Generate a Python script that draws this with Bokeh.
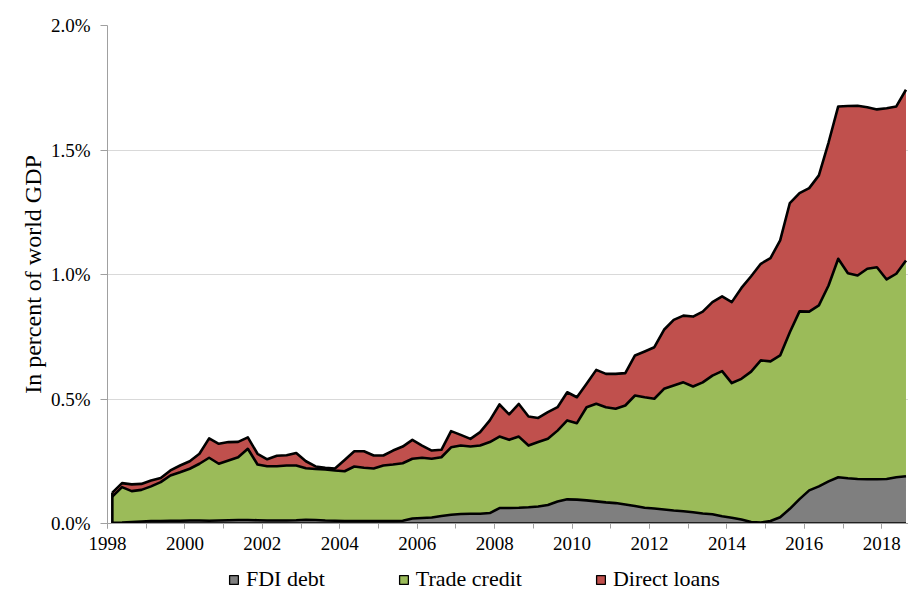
import numpy as np
import pandas as pd
from bokeh.plotting import figure
from bokeh.layouts import column
from bokeh.models import (Range1d, FixedTicker, PrintfTickFormatter, Legend,
                          LegendItem)
from bokeh.embed import file_html
from bokeh.resources import INLINE

# Quarterly data, in percent of world GDP, starting 1998Q1
first_quarter = "1998Q1"

fdi_debt = [
    0.003, 0.004, 0.006, 0.008, 0.010, 0.010, 0.011, 0.011, 0.012, 0.012,
    0.011, 0.012, 0.013, 0.014, 0.014, 0.013, 0.012, 0.012, 0.012, 0.013,
    0.015, 0.014, 0.012, 0.011, 0.010, 0.010, 0.010, 0.010, 0.010, 0.010,
    0.011, 0.020, 0.022, 0.024, 0.030, 0.035, 0.038, 0.039, 0.039, 0.042,
    0.062, 0.062, 0.063, 0.065, 0.068, 0.074, 0.088, 0.097, 0.096, 0.093,
    0.089, 0.085, 0.082, 0.076, 0.070, 0.063, 0.060, 0.056, 0.052, 0.049,
    0.045, 0.040, 0.037, 0.029, 0.023, 0.016, 0.006, 0.004, 0.010, 0.025,
    0.059, 0.098, 0.133, 0.149, 0.169, 0.186, 0.182, 0.179, 0.178, 0.178,
    0.179, 0.186, 0.190,
]

trade_credit = [
    0.105, 0.142, 0.124, 0.127, 0.139, 0.156, 0.182, 0.195, 0.208, 0.228,
    0.253, 0.228, 0.240, 0.252, 0.286, 0.224, 0.218, 0.218, 0.221, 0.220,
    0.207, 0.205, 0.205, 0.202, 0.200, 0.219, 0.214, 0.211, 0.223, 0.227,
    0.231, 0.240, 0.242, 0.236, 0.236, 0.271, 0.275, 0.270, 0.274, 0.285,
    0.287, 0.274, 0.286, 0.248, 0.259, 0.266, 0.285, 0.317, 0.307, 0.374,
    0.392, 0.382, 0.379, 0.398, 0.444, 0.444, 0.441, 0.485, 0.502, 0.518,
    0.505, 0.527, 0.557, 0.583, 0.541, 0.565, 0.604, 0.651, 0.641, 0.650,
    0.709, 0.754, 0.718, 0.727, 0.787, 0.877, 0.823, 0.817, 0.845, 0.851,
    0.801, 0.817, 0.866,
]

direct_loans = [
    0.016, 0.016, 0.027, 0.024, 0.024, 0.017, 0.020, 0.027, 0.030, 0.040,
    0.078, 0.080, 0.074, 0.062, 0.046, 0.043, 0.028, 0.042, 0.041, 0.050,
    0.028, 0.010, 0.007, 0.008, 0.045, 0.061, 0.066, 0.052, 0.040, 0.056,
    0.067, 0.076, 0.049, 0.033, 0.030, 0.065, 0.043, 0.031, 0.054, 0.087,
    0.129, 0.102, 0.131, 0.117, 0.097, 0.107, 0.094, 0.113, 0.104, 0.094,
    0.136, 0.134, 0.140, 0.130, 0.161, 0.184, 0.207, 0.237, 0.264, 0.268,
    0.281, 0.284, 0.295, 0.300, 0.325, 0.365, 0.383, 0.388, 0.415, 0.462,
    0.519, 0.475, 0.496, 0.522, 0.574, 0.612, 0.672, 0.682, 0.649, 0.634,
    0.688, 0.672, 0.686,
]

series_names = ["FDI debt", "Trade credit", "Direct loans"]
series_colors = ["#7F7F7F", "#9BBB59", "#C0504D"]
year_ticks = list(range(1998, 2019, 2))
y_ticks = [0.0, 0.5, 1.0, 1.5, 2.0]

# mid-quarter positions on a continuous year axis
periods = pd.period_range(first_quarter, periods=len(fdi_debt), freq="Q")
x = np.array([pp.year + (pp.quarter - 0.5) / 4.0 for pp in periods])

c1 = np.array(fdi_debt)
c2 = c1 + np.array(trade_credit)
c3 = c2 + np.array(direct_loans)
zero = np.zeros_like(c1)

FONT = "Liberation Serif"
LW = 2.6

p = figure(width=908, height=560, output_backend="svg", toolbar_location=None,
           x_range=Range1d(1998, 2018.69), y_range=Range1d(0, 2.0),
           min_border_left=107, min_border_right=0, min_border_top=25,
           min_border_bottom=37)
p.outline_line_color = None
p.background_fill_color = "white"
p.xgrid.visible = False
p.ygrid.grid_line_color = "#D9D9D9"
p.ygrid.grid_line_width = 1.2

bands = [(zero, c1), (c1, c2), (c2, c3)]
xs = np.concatenate([x, x[::-1]])
for (lo, hi), col in zip(bands, series_colors):
    ys = np.concatenate([hi, lo[::-1]])
    p.patch(xs, ys, fill_color=col, line_color=None)
# black outlines of the stacked areas
for top in (zero, c1, c2, c3):
    p.line(x, top, line_color="black", line_width=LW, line_join="round")
p.segment(x0=[x[0]], y0=[0], x1=[x[0]], y1=[c3[0]], line_color="black",
          line_width=LW)

AX = "#A0A0A0"
xa = p.xaxis[0]
xa.ticker = FixedTicker(ticks=year_ticks, minor_ticks=list(range(1998, 2020)))
xa.formatter = PrintfTickFormatter(format="%d")
xa.axis_line_color = AX
xa.major_tick_line_color = AX
xa.minor_tick_line_color = AX
xa.major_tick_in = 0
xa.major_tick_out = 5
xa.minor_tick_in = 0
xa.minor_tick_out = 5
xa.major_label_standoff = 8
xa.major_label_text_font = FONT
xa.major_label_text_font_size = "19px"
xa.major_label_text_color = "black"

ya = p.yaxis[0]
ya.ticker = FixedTicker(ticks=y_ticks)
ya.formatter = PrintfTickFormatter(format="%.1f%%")
ya.axis_line_color = AX
ya.major_tick_line_color = AX
ya.minor_tick_line_color = None
ya.major_tick_in = 0
ya.major_tick_out = 7
ya.major_label_standoff = 10
ya.major_label_text_font = FONT
ya.major_label_text_font_size = "19px"
ya.major_label_text_color = "black"
ya.axis_label = "In percent of world GDP"
ya.axis_label_text_font = FONT
ya.axis_label_text_font_size = "24px"
ya.axis_label_text_font_style = "normal"
ya.axis_label_text_color = "black"
ya.axis_label_standoff = 2

# legend strip below the chart (its frame is aligned with the chart's frame)
lg = figure(width=908, height=32, output_backend="svg", toolbar_location=None,
            x_axis_location=None, y_axis_location=None,
            x_range=Range1d(0, 1), y_range=Range1d(0, 1), min_border=0)
lg.outline_line_color = None
lg.grid.visible = False
items = []
for name, col in zip(series_names, series_colors):
    r = lg.quad(left=[np.nan], right=[np.nan], top=[np.nan], bottom=[np.nan],
                fill_color=col, line_color="black", line_width=1.3)
    items.append(LegendItem(label=name, renderers=[r]))

legend = Legend(items=items, orientation="horizontal", location=(121, 0),
                spacing=73, glyph_width=11, glyph_height=11, label_standoff=7,
                label_text_font=FONT, label_text_font_size="22px",
                label_text_color="black", border_line_color=None,
                background_fill_alpha=0, padding=0, margin=0)
lg.add_layout(legend, "center")

layout = column(p, lg, spacing=0)
open("out.html", "w").write(file_html(layout, INLINE))
